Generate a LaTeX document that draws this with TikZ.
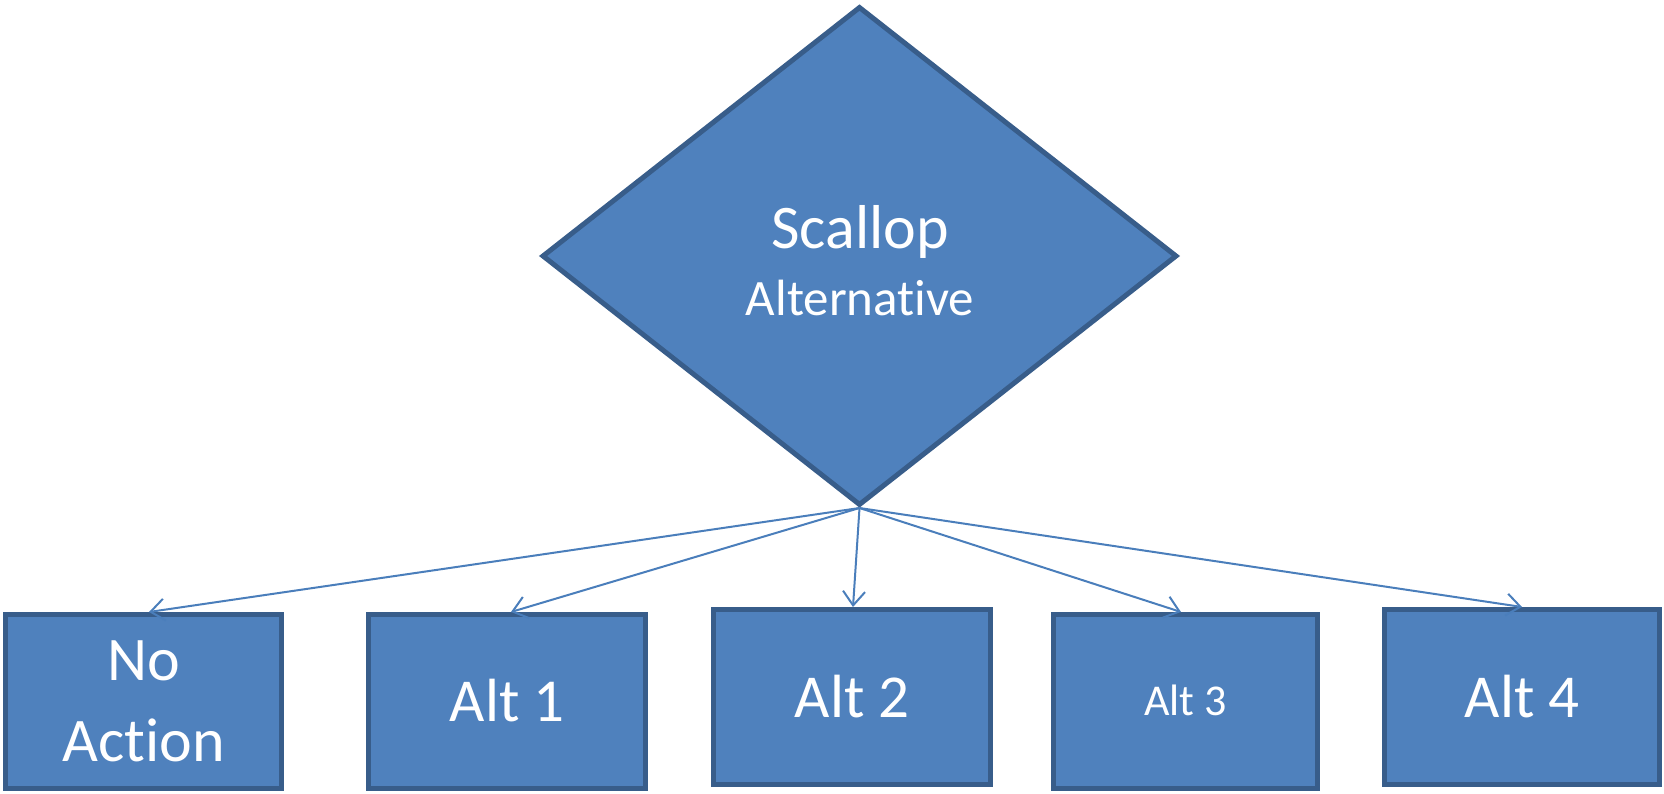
\documentclass[tikz,border=0pt]{standalone}
\usepackage{fontspec}
\setmainfont{Carlito}[Ligatures={NoCommon}]
\usetikzlibrary{shapes.geometric,arrows.meta}
\definecolor{fillb}{HTML}{4F81BD}
\definecolor{edgeb}{HTML}{385D8A}
\definecolor{arrowb}{HTML}{4A7EBB}
\begin{document}
\begin{tikzpicture}[x=1pt,y=-1pt,
  box/.style={draw=edgeb, fill=fillb, line width=5pt, text=white, inner sep=0pt, align=center},
  decision/.style={diamond, draw=edgeb, fill=fillb, line width=5pt, inner sep=0pt},
  lbl/.style={text=white, inner sep=0pt, anchor=base},
  conn/.style={draw=arrowb, line width=2pt, -{Straight Barb[length=14pt,width=22pt]}},
  big/.style={font=\fontsize{61}{81}\selectfont, text height=40pt, text depth=0pt},
  small/.style={font=\fontsize{44}{52}\selectfont, text height=28.3pt, text depth=0pt}]
\useasboundingbox (0,0) rectangle (1664,794);
% decision diamond
\node[decision, minimum width=635, minimum height=499] (dm) at (859.5,256) {};
\node[lbl, font=\fontsize{62}{62}\selectfont] (t1) at (860,248) {Scallop};
\node[lbl, font=\fontsize{51}{51}\selectfont] (t2) at (860,315) {Alternative};
% boxes
\node[box, minimum width=276, minimum height=174, font=\fontsize{62}{81}\selectfont] (b0) at (143.5,701.5) {No\\Action};
\node[box, big, minimum width=277, minimum height=174] (b1) at (507,701.5) {Alt 1};
\node[box, big, minimum width=277, minimum height=175] (b2) at (852,697) {Alt 2};
\node[box, small, minimum width=264, minimum height=174] (b3) at (1185.5,701.5) {Alt 3};
\node[box, big, minimum width=275, minimum height=175] (b4) at (1522,697) {Alt 4};
% connectors
\draw[conn] (dm.south) -- ([xshift=5.5pt]b0.north);
\draw[conn] (dm.south) -- ([xshift=4pt]b1.north);
\draw[conn] (dm.south) -- ([xshift=1pt]b2.north);
\draw[conn] (dm.south) -- ([xshift=-4.5pt]b3.north);
\draw[conn] (dm.south) -- (b4.north);
\end{tikzpicture}
\end{document}
